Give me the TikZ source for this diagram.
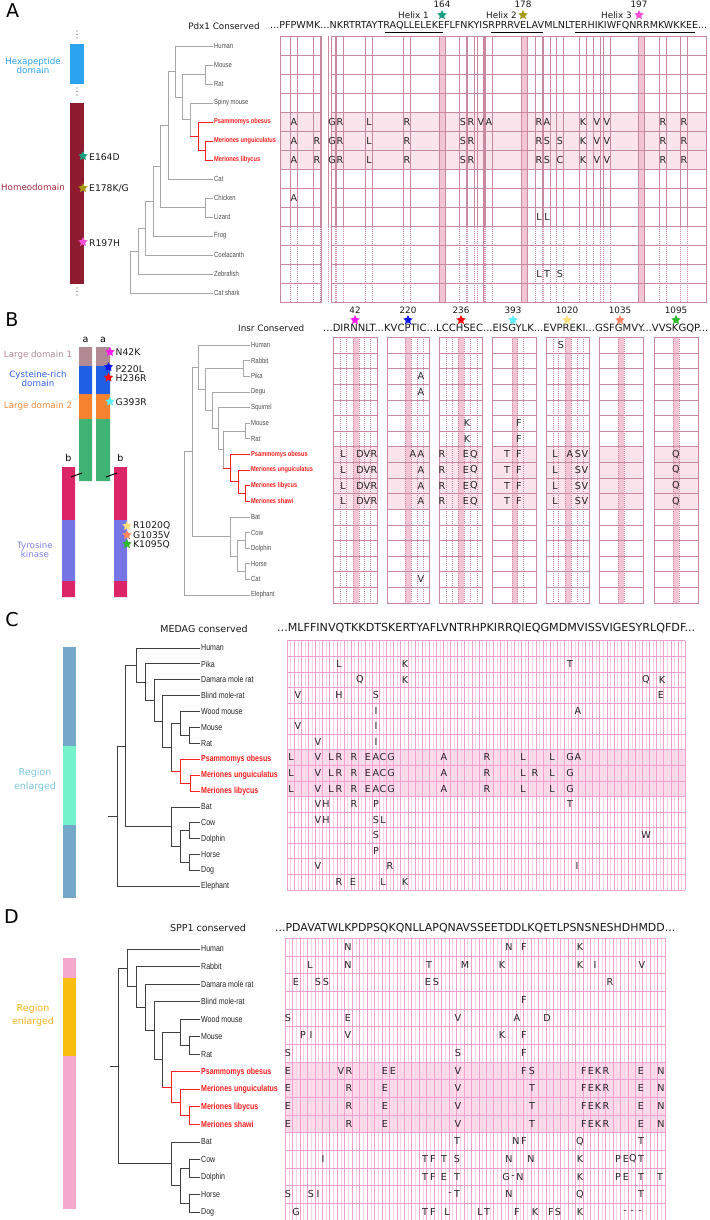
\documentclass[tikz,border=0pt]{standalone}
\usepackage{fontspec}
\usepackage{graphicx}
\setmainfont{DejaVu Sans}
\newfontfamily\narrow[FakeStretch=0.8]{Liberation Sans}
\usetikzlibrary{shapes.geometric}
\definecolor{gABc}{HTML}{C8899F}
\definecolor{sABc}{HTML}{FBE4EC}
\definecolor{cABc}{HTML}{F2C4D4}
\definecolor{gCDc}{HTML}{F4A0CE}
\definecolor{gCDlc}{HTML}{F9D2E7}
\definecolor{sCDc}{HTML}{FCDCEB}
\definecolor{treegray}{HTML}{A6A6A6}
\definecolor{gred}{HTML}{FF1F1F}
\definecolor{hexblue}{HTML}{2BA3EE}
\definecolor{homeo}{HTML}{8E1B2F}
\definecolor{homeotxt}{HTML}{A12B3F}
\definecolor{ld1c}{HTML}{B28A94}
\definecolor{cysc}{HTML}{1F5FE6}
\definecolor{ld2c}{HTML}{F5822F}
\definecolor{grnc}{HTML}{3FB373}
\definecolor{crimc}{HTML}{DC2566}
\definecolor{tkc}{HTML}{7575E6}
\definecolor{ld1t}{HTML}{B48C96}
\definecolor{cyst}{HTML}{2F64E8}
\definecolor{ld2t}{HTML}{F58A3A}
\definecolor{tkt}{HTML}{8585E8}
\definecolor{steelc}{HTML}{74A8C9}
\definecolor{aquac}{HTML}{74F2CB}
\definecolor{regCc}{HTML}{7FC6DD}
\definecolor{pinkbar}{HTML}{F5A8CD}
\definecolor{goldbar}{HTML}{F7BE0F}
\definecolor{regDc}{HTML}{F5B325}
\definecolor{s164}{HTML}{1A9E82}
\definecolor{s178}{HTML}{A59B12}
\definecolor{s197}{HTML}{F54FD8}
\definecolor{s42}{HTML}{FF1CF0}
\definecolor{s220}{HTML}{0A14F5}
\definecolor{s236}{HTML}{FF0A0A}
\definecolor{s393}{HTML}{5BEFFF}
\definecolor{s1020}{HTML}{FFE07A}
\definecolor{s1035}{HTML}{FF8563}
\definecolor{s1095}{HTML}{2EB82E}
\newcommand\resrow[3]{\foreach \x/\l in {#3} {\node[res] (#1-\x) at (\x,#2) {\l};}}
\begin{document}
\begin{tikzpicture}[x=1pt,y=-1pt,
  tlA/.style={anchor=west, inner sep=1pt, font=\narrow\fontsize{7.4}{8}\selectfont, text=black!70},
  tlAr/.style={tlA, font=\narrow\bfseries\fontsize{7.1}{8}\selectfont, text=gred},
  tlC/.style={anchor=west, inner sep=1pt, font=\narrow\fontsize{8.8}{9}\selectfont, text=black!85},
  tlCr/.style={tlC, font=\narrow\bfseries\fontsize{8.8}{9}\selectfont, text=gred},
  tgA/.style={draw=treegray, line width=0.7pt},
  tgAr/.style={draw=gred, line width=0.9pt},
  tgC/.style={draw=black!75, line width=1pt},
  tgCr/.style={draw=gred, line width=1pt},
  res/.style={inner sep=0pt, font=\fontsize{9.6}{10}\selectfont, text=black!85},
  seqn/.style={anchor=west, inner sep=0pt, font=\fontsize{9}{10}\selectfont, text=black!90},
  hdr/.style={inner sep=0pt, font=\fontsize{8.8}{10}\selectfont, text=black!90},
  mut/.style={anchor=west, inner sep=0pt, font=\fontsize{9.2}{10}\selectfont, text=black!90},
  dom/.style={inner sep=0pt, align=center, font=\fontsize{8.7}{9}\selectfont},
  plab/.style={inner sep=0pt, font=\fontsize{19}{20}\selectfont},
  mstar/.style={star, star points=5, star point ratio=2.1, minimum size=10pt, inner sep=0pt},
  gAB/.style={draw=gABc, line width=0.4pt},
  gABd/.style={draw=gABc, line width=0.35pt, dash pattern=on 1.2pt off 0.8pt},
  gCD/.style={draw=gCDc, line width=0.45pt},
  gCDl/.style={draw=gCDlc, line width=0.3pt}
]
\useasboundingbox (0,0) rectangle (709,1220);
\fill[white] (0,0) rectangle (709,1220);

%%%%%%%%%%%%%%%% PANEL A %%%%%%%%%%%%%%%%
\node[plab] (LA) at (12.5,10.5) {A};
\foreach \y in {31,34.5,38,88,91.5,95,288,291.5,295} \fill[black!70] (77,\y) circle (0.55);
\fill[hexblue] (70,44) rectangle (84,84);
\fill[homeo] (70,103) rectangle (84,284);
\node[dom, text=hexblue] (Lhex) at (33,66) {Hexapeptide\\domain};
\node[dom, text=homeotxt] (Lhom) at (33,187) {Homeodomain};
\node[mstar, fill=s164] (m164) at (83,156) {};
\node[mut] (t164) at (89,157) {E164D};
\node[mstar, fill=s178] (m178) at (83,188) {};
\node[mut] (t178) at (89,189) {E178K/G};
\node[mstar, fill=s197] (m197) at (83,242) {};
\node[mut] (t197) at (89,243) {R197H};

% tree A
\node[tlA] (Ahu) at (213,46) {Human};
\node[tlA] (Amo) at (213,65) {Mouse};
\node[tlA] (Ara) at (213,84) {Rat};
\node[tlA] (Asp) at (213,103) {Spiny mouse};
\node[tlAr] (Aps) at (213,122) {Psammomys obesus};
\node[tlAr] (Amu) at (213,141) {Meriones unguiculatus};
\node[tlAr] (Aml) at (213,160) {Meriones libycus};
\node[tlA] (Aca) at (213,179) {Cat};
\node[tlA] (Ach) at (213,198) {Chicken};
\node[tlA] (Ali) at (213,217) {Lizard};
\node[tlA] (Afr) at (213,236) {Frog};
\node[tlA] (Aco) at (213,255) {Coelacanth};
\node[tlA] (Aze) at (213,274) {Zebrafish};
\node[tlA] (Acs) at (213,293) {Cat shark};
\coordinate (aMR) at (205,74.5);
\coordinate (aML) at (205,150.5);
\coordinate (aG) at (198,136.25);
\coordinate (aSG) at (190,119.6);
\coordinate (aRod) at (182,97);
\coordinate (aHR) at (175,71.5);
\coordinate (aMam) at (168,125.25);
\coordinate (aCL) at (205,207.5);
\coordinate (aAmn) at (160,166.4);
\coordinate (aTet) at (153,201.2);
\coordinate (aSar) at (145,228.1);
\coordinate (aOst) at (138,251);
\coordinate (aRoot) at (130,272);
\draw[tgA] (aMR) |- (Amo.west) (aMR) |- (Ara.west) (aSG) |- (Asp.west)
  (aRod) |- (aMR) (aRod) |- (aSG) (aHR) |- (Ahu.west) (aHR) |- (aRod)
  (aMam) |- (aHR) (aMam) |- (Aca.west) (aCL) |- (Ach.west) (aCL) |- (Ali.west)
  (aAmn) |- (aMam) (aAmn) |- (aCL) (aTet) |- (aAmn) (aTet) |- (Afr.west)
  (aSar) |- (aTet) (aSar) |- (Aco.west) (aOst) |- (aSar) (aOst) |- (Aze.west)
  (aRoot) |- (aOst) (aRoot) |- (Acs.west);
\draw[tgA] (aSG) -- (aSG |- aG);
\draw[tgAr] (aSG |- aG) -- (aG);
\draw[tgAr] (aML) |- (Amu.west) (aML) |- (Aml.west) (aG) |- (Aps.west) (aG) |- (aML);

% header A
\node[hdr] (Ahdr) at (224,26) {Pdx1 Conserved};
\node[seqn] (Aseq) at (270,26) {\resizebox{437pt}{!}{...PFPWMK...NKRTRTAYTRAQLLELEKEFLFNKYISRPRRVELAVMLNLTERHIKIWFQNRRMKWKKEE...}};
\draw[line width=1.3pt] (385,32.5) -- (443,32.5) (490.7,32.5) -- (542.7,32.5) (575,32.5) -- (695,32.5);
\node[hdr] (hx1) at (413.5,15.5) {Helix 1};
\node[hdr] (hx2) at (501.5,15.5) {Helix 2};
\node[hdr] (hx3) at (616.5,15.5) {Helix 3};
\node[mstar, fill=s164] (st164) at (442,15) {};
\node[mstar, fill=s178] (st178) at (523,15) {};
\node[mstar, fill=s197] (st197) at (639,15) {};
\node[hdr] (n164) at (442,4.5) {164};
\node[hdr] (n178) at (523,4.5) {178};
\node[hdr] (n197) at (639,4.5) {197};

% grid A
\fill[sABc] (280,112.5) rectangle (321,169.5) (331,112.5) rectangle (706,169.5);
\fill[cABc] (439,36.5) rectangle (445,302.5) (521.5,36.5) rectangle (527,302.5) (638,36.5) rectangle (644,302.5);
\draw[gAB] (280,36.5) rectangle (321,302.5) (331,36.5) rectangle (706,302.5);
\foreach \k in {1,...,13} {\draw[gAB] (280,{36.5+19*\k}) -- (321,{36.5+19*\k}) (331,{36.5+19*\k}) -- (706,{36.5+19*\k});}
\foreach \c in {294,317,332,340,369,407,463,471,481,489,539,547,560,583,597,607,663,684}
  {\draw[gABd] (\c-3.5,36.5) -- (\c-3.5,302.5) (\c+3.5,36.5) -- (\c+3.5,302.5);}
\draw[gAB] (439,36.5) -- (439,302.5) (445,36.5) -- (445,302.5) (521.5,36.5) -- (521.5,302.5) (527,36.5) -- (527,302.5) (638,36.5) -- (638,302.5) (644,36.5) -- (644,302.5) (483,36.5) -- (483,302.5);
\resrow{A4}{122}{294/A,332/G,340/R,369/L,407/R,463/S,471/R,481/V,489/A,539/R,547/A,583/K,597/V,607/V,663/R,684/R}
\resrow{A5}{141}{294/A,317/R,332/G,340/R,369/L,407/R,463/S,471/R,539/R,547/S,560/S,583/K,597/V,607/V,663/R,684/R}
\resrow{A6}{160}{294/A,317/R,332/G,340/R,369/L,407/R,463/S,471/R,539/R,547/S,560/C,583/K,597/V,607/V,663/R,684/R}
\resrow{A8}{198}{294/A}
\resrow{A9}{217}{539/L,547/L}
\resrow{A12}{274}{539/L,547/T,560/S}

%%%%%%%%%%%%%%%% PANEL B %%%%%%%%%%%%%%%%
\node[plab] (LB) at (12,320) {B};
\fill[ld1c] (79,347) rectangle (92,366) (96,347) rectangle (110,366);
\fill[cysc] (79,366) rectangle (92,394) (96,366) rectangle (110,394);
\fill[ld2c] (79,394) rectangle (92,419) (96,394) rectangle (110,419);
\fill[grnc] (79,419) rectangle (92,481) (96,419) rectangle (110,481);
\fill[crimc] (62,467) rectangle (75,520) (114,467) rectangle (127,520);
\fill[tkc] (62,520) rectangle (75,581) (114,520) rectangle (127,581);
\fill[crimc] (62,581) rectangle (75,597) (114,581) rectangle (127,597);
\draw[line width=1pt] (71,477) -- (82,473) (106,477) -- (117,473);
\node[font=\fontsize{9.5}{10}\selectfont, inner sep=0pt] (aL) at (85.5,340) {a};
\node[font=\fontsize{9.5}{10}\selectfont, inner sep=0pt] (aR) at (103,340) {a};
\node[font=\fontsize{9.5}{10}\selectfont, inner sep=0pt] (bL) at (68.5,458) {b};
\node[font=\fontsize{9.5}{10}\selectfont, inner sep=0pt] (bR) at (120.5,458) {b};
\node[dom, text=ld1t] (Lld1) at (38,355) {Large domain 1};
\node[dom, text=cyst] (Lcys) at (38,378.5) {Cysteine-rich\\domain};
\node[dom, text=ld2t] (Lld2) at (38,406) {Large domain 2};
\node[dom, text=tkt] (Ltk) at (35,550) {Tyrosine\\kinase};
\node[mstar, fill=s42] (m42) at (110,352) {};
\node[mut] (t42) at (115.5,352.5) {N42K};
\node[mstar, fill=s220] (m220) at (108.5,367) {};
\node[mut] (t220) at (115.5,369) {P220L};
\node[mstar, fill=s236] (m236) at (108.5,377.5) {};
\node[mut] (t236) at (115.5,378.5) {H236R};
\node[mstar, fill=s393] (m393) at (110,401.5) {};
\node[mut] (t393) at (115.5,402) {G393R};
\node[mstar, fill=s1020] (m1020) at (127,526) {};
\node[mut] (t1020) at (133,526) {R1020Q};
\node[mstar, fill=s1035] (m1035) at (127,535) {};
\node[mut] (t1035) at (133,535) {G1035V};
\node[mstar, fill=s1095] (m1095) at (127,544) {};
\node[mut] (t1095) at (133,544.5) {K1095Q};

% tree B
\node[tlA] (Bhu) at (250,345) {Human};
\node[tlA] (Bra) at (250,360.6) {Rabbit};
\node[tlA] (Bpi) at (250,376.25) {Pika};
\node[tlA] (Bde) at (250,391.9) {Degu};
\node[tlA] (Bsq) at (250,407.5) {Squirrel};
\node[tlA] (Bmo) at (250,423.1) {Mouse};
\node[tlA] (Brt) at (250,438.75) {Rat};
\node[tlAr] (Bps) at (250,454.4) {Psammomys obesus};
\node[tlAr] (Bmu) at (250,470) {Meriones unguiculatus};
\node[tlAr] (Bml) at (250,485.6) {Meriones libycus};
\node[tlAr] (Bms) at (250,501.25) {Meriones shawi};
\node[tlA] (Bba) at (250,516.9) {Bat};
\node[tlA] (Bco) at (250,532.5) {Cow};
\node[tlA] (Bdo) at (250,548.1) {Dolphin};
\node[tlA] (Bho) at (250,563.75) {Horse};
\node[tlA] (Bca) at (250,579.4) {Cat};
\node[tlA] (Bel) at (250,595) {Elephant};
\coordinate (bRP) at (243,368.4);
\coordinate (bMR) at (245,430.9);
\coordinate (bLS) at (245,493.4);
\coordinate (bU) at (238,481.7);
\coordinate (bG) at (230,468.05);
\coordinate (bMG) at (223,449.5);
\coordinate (bSq) at (218,428.5);
\coordinate (bDe) at (212,410.2);
\coordinate (bGl) at (205,389.3);
\coordinate (bEu) at (198,367.15);
\coordinate (bCD) at (245,540.3);
\coordinate (bHC) at (245,571.6);
\coordinate (bCH) at (237,555.95);
\coordinate (bLa) at (230,536.4);
\coordinate (bBo) at (192,451.8);
\coordinate (bRoot) at (184,523.4);
\draw[tgA] (bRP) |- (Bra.west) (bRP) |- (Bpi.west) (bMR) |- (Bmo.west) (bMR) |- (Brt.west)
  (bMG) |- (bMR) (bSq) |- (Bsq.west) (bSq) |- (bMG) (bDe) |- (Bde.west) (bDe) |- (bSq)
  (bGl) |- (bRP) (bGl) |- (bDe) (bEu) |- (Bhu.west) (bEu) |- (bGl)
  (bCD) |- (Bco.west) (bCD) |- (Bdo.west) (bHC) |- (Bho.west) (bHC) |- (Bca.west)
  (bCH) |- (bCD) (bCH) |- (bHC) (bLa) |- (Bba.west) (bLa) |- (bCH)
  (bBo) |- (bEu) (bBo) |- (bLa) (bRoot) |- (bBo) (bRoot) |- (Bel.west);
\draw[tgA] (bMG) -- (bMG |- bG);
\draw[tgAr] (bMG |- bG) -- (bG);
\draw[tgAr] (bLS) |- (Bml.west) (bLS) |- (Bms.west) (bU) |- (Bmu.west) (bU) |- (bLS) (bG) |- (Bps.west) (bG) |- (bU);

% header B
\node[hdr, anchor=west] (Bhdr) at (238,328) {Insr Conserved};
\node[seqn] (Bseq) at (323,328) {\resizebox{385pt}{!}{...DIRNNLT...KVCPTIC...LCCHSEC...EISGYLK...EVPREKI...GSFGMVY...VVSKGQP...}};
\foreach \c/\n/\s in {355/42/s42, 408/220/s220, 461/236/s236, 513/393/s393, 567/1020/s1020, 620/1035/s1035, 676/1095/s1095}
  {\node[hdr] (bn\n) at (\c,310.5) {\n}; \node[mstar, fill=\s] (bs\n) at (\c,320) {};}

% grid B
\foreach \a/\b in {333/377,387/429,439/482,492/536,546/589,599/643,654/698}
  {\fill[sABc] (\a,446.6) rectangle (\b,509.1);}
\foreach \c in {356,408,461,514.5,568,621,676} {\fill[cABc] (\c-3,337.2) rectangle (\c+3,602.8);}
\foreach \a/\b in {333/377,387/429,439/482,492/536,546/589,599/643,654/698}
  {\draw[gAB] (\a,337.2) rectangle (\b,602.8);
   \foreach \k in {1,...,16} {\draw[gAB] (\a,{337.2+15.625*\k}) -- (\b,{337.2+15.625*\k});}}
\foreach \c in {340,346,353,359,364,370,405,411,417,423,446,452,458,464,470,477,512,517,523,553,558,565,571,577,583,618,624,673,679}
  {\draw[gABd] (\c,337.2) -- (\c,602.8);}
\resrow{B0}{345}{561/S}
\resrow{B2}{376.25}{421/A}
\resrow{B3}{391.9}{421/A}
\resrow{B5}{423.1}{467/K,519/F}
\resrow{B6}{438.75}{467/K,519/F}
\resrow{B7}{454.4}{343/L,360/D,367/V,374/R,413/A,421/A,442/R,466/E,474/Q,507/T,519/F,555/L,570/A,578/S,585/V,676/Q}
\resrow{B8}{470}{343/L,360/D,367/V,374/R,421/A,442/R,466/E,474/Q,507/T,519/F,555/L,578/S,585/V,676/Q}
\resrow{B9}{485.6}{343/L,360/D,367/V,374/R,421/A,442/R,466/E,474/Q,507/T,519/F,555/L,578/S,585/V,676/Q}
\resrow{B10}{501.25}{343/L,360/D,367/V,374/R,421/A,442/R,466/E,474/Q,507/T,519/F,555/L,578/S,585/V,676/Q}
\resrow{B15}{579.4}{421/V}

%%%%%%%%%%%%%%%% PANEL C %%%%%%%%%%%%%%%%
\node[plab] (LC) at (12,620) {C};
\fill[steelc] (63,647) rectangle (76,746);
\fill[aquac] (63,746) rectangle (76,825);
\fill[steelc] (63,825) rectangle (76,898);
\node[dom, text=regCc, font=\fontsize{9.5}{14}\selectfont] (LrC) at (35,780) {Region\\enlarged};

% tree C
\node[tlC] (Chu) at (200,648) {Human};
\node[tlC] (Cpi) at (200,663.9) {Pika};
\node[tlC] (Cda) at (200,679.8) {Damara mole rat};
\node[tlC] (Cbl) at (200,695.7) {Blind mole-rat};
\node[tlC] (Cwm) at (200,711.6) {Wood mouse};
\node[tlC] (Cmo) at (200,727.5) {Mouse};
\node[tlC] (Crt) at (200,743.4) {Rat};
\node[tlCr] (Cps) at (200,759.3) {Psammomys obesus};
\node[tlCr] (Cmu) at (200,775.2) {Meriones unguiculatus};
\node[tlCr] (Cml) at (200,791.1) {Meriones libycus};
\node[tlC] (Cba) at (200,807) {Bat};
\node[tlC] (Cco) at (200,822.9) {Cow};
\node[tlC] (Cdo) at (200,838.8) {Dolphin};
\node[tlC] (Cho) at (200,854.7) {Horse};
\node[tlC] (Cdg) at (200,870.6) {Dog};
\node[tlC] (Cel) at (200,886.5) {Elephant};
\coordinate (cMR) at (189,735.45);
\coordinate (cWM) at (180,723.5);
\coordinate (cUL) at (190,783.15);
\coordinate (cG) at (180,771.2);
\coordinate (cMu) at (171,747.35);
\coordinate (cBl) at (162,721.5);
\coordinate (cDa) at (154,700.65);
\coordinate (cGl) at (145,682.3);
\coordinate (cEu) at (136,665.15);
\coordinate (cCD) at (189,830.85);
\coordinate (cHD) at (189,862.65);
\coordinate (cCH) at (180,846.75);
\coordinate (cLa) at (171,826.9);
\coordinate (cBo) at (125,746);
\coordinate (cRoot) at (117,816.25);
\coordinate (cStub) at (108,816.25);
\draw[tgC] (cMR) |- (Cmo.west) (cMR) |- (Crt.west) (cWM) |- (Cwm.west) (cWM) |- (cMR)
  (cMu) |- (cWM) (cBl) |- (Cbl.west) (cBl) |- (cMu) (cDa) |- (Cda.west) (cDa) |- (cBl)
  (cGl) |- (Cpi.west) (cGl) |- (cDa) (cEu) |- (Chu.west) (cEu) |- (cGl)
  (cCD) |- (Cco.west) (cCD) |- (Cdo.west) (cHD) |- (Cho.west) (cHD) |- (Cdg.west)
  (cCH) |- (cCD) (cCH) |- (cHD) (cLa) |- (Cba.west) (cLa) |- (cCH)
  (cBo) |- (cEu) (cBo) |- (cLa) (cRoot) |- (cBo) (cRoot) |- (Cel.west) (cStub) -- (cRoot);
\draw[tgC] (cMu) -- (cMu |- cG);
\draw[tgCr] (cMu |- cG) -- (cG);
\draw[tgCr] (cUL) |- (Cmu.west) (cUL) |- (Cml.west) (cG) |- (Cps.west) (cG) |- (cUL);

% header C
\node[hdr, font=\fontsize{9.5}{10}\selectfont] (Chdr) at (204,629) {MEDAG conserved};
\node[seqn] (Cseq) at (277,628) {\resizebox{418pt}{!}{...MLFFINVQTKKDTSKERTYAFLVNTRHPKIRRQIEQGMDMVISSVIGESYRLQFDF...}};

% grid C
\fill[sCDc] (287,749.6) rectangle (685,796.3);
\foreach \k in {0,...,55} {\draw[gCDl] ({287+7.107*\k+3.55},640.6) -- ({287+7.107*\k+3.55},889.7);}
\foreach \k in {0,...,56} {\draw[gCD] ({287+7.107*\k},640.6) -- ({287+7.107*\k},889.7);}
\foreach \k in {0,...,16} {\draw[gCD] (287,{640.6+15.57*\k}) -- (685,{640.6+15.57*\k});}
\resrow{C1}{664}{339/L,405/K,570/T}
\resrow{C2}{679.5}{360/Q,405/K,646/Q,662/K}
\resrow{C3}{695.1}{298/V,339/H,376/S,661/E}
\resrow{C4}{710.7}{376/I,578/A}
\resrow{C5}{726.2}{298/V,376/I}
\resrow{C6}{741.8}{318/V,376/I}
\resrow{C7}{757.4}{291/L,318/V,331/L,339/R,354/R,368/E,376/A,383/C,391/G,444/A,487/R,523/L,552/L,570/G,578/A}
\resrow{C8}{772.9}{291/L,318/V,331/L,339/R,354/R,368/E,376/A,383/C,391/G,444/A,487/R,523/L,535/R,552/L,570/G}
\resrow{C9}{788.5}{291/L,318/V,331/L,339/R,354/R,368/E,376/A,383/C,391/G,444/A,487/R,523/L,552/L,570/G}
\resrow{C10}{804.1}{318/V,326/H,354/R,376/P,570/T}
\resrow{C11}{819.7}{318/V,326/H,376/S,383/L}
\resrow{C12}{835.2}{376/S,646/W}
\resrow{C13}{850.8}{376/P}
\resrow{C14}{866.4}{318/V,390/R,577/I}
\resrow{C15}{882}{339/R,353/E,383/L,405/K}

%%%%%%%%%%%%%%%% PANEL D %%%%%%%%%%%%%%%%
\node[plab] (LD) at (11.5,917) {D};
\fill[pinkbar] (63,958) rectangle (76,978);
\fill[goldbar] (63,978) rectangle (76,1056);
\fill[pinkbar] (63,1056) rectangle (76,1209);
\node[dom, text=regDc, font=\fontsize{9.5}{13}\selectfont] (LrD) at (33,1015.5) {Region\\enlarged};

% tree D
\node[tlC] (Dhu) at (200,949) {Human};
\node[tlC] (Dra) at (200,966.5) {Rabbit};
\node[tlC] (Dda) at (200,984.1) {Damara mole rat};
\node[tlC] (Dbl) at (200,1001.6) {Blind mole-rat};
\node[tlC] (Dwm) at (200,1019.2) {Wood mouse};
\node[tlC] (Dmo) at (200,1036.7) {Mouse};
\node[tlC] (Drt) at (200,1054.3) {Rat};
\node[tlCr] (Dps) at (200,1071.8) {Psammomys obesus};
\node[tlCr] (Dmu) at (200,1089.4) {Meriones unguiculatus};
\node[tlCr] (Dml) at (200,1106.9) {Meriones libycus};
\node[tlCr] (Dms) at (200,1124.5) {Meriones shawi};
\node[tlC] (Dba) at (200,1142) {Bat};
\node[tlC] (Dco) at (200,1159.6) {Cow};
\node[tlC] (Ddo) at (200,1177.1) {Dolphin};
\node[tlC] (Dho) at (200,1194.7) {Horse};
\node[tlC] (Ddg) at (200,1212.2) {Dog};
\coordinate (dMR) at (189,1045.5);
\coordinate (dWM) at (180,1032.35);
\coordinate (dLS) at (189,1115.7);
\coordinate (dU) at (180,1102.55);
\coordinate (dG) at (171,1087.2);
\coordinate (dMu) at (162,1059.8);
\coordinate (dBl) at (154,1030.7);
\coordinate (dDa) at (145,1007.4);
\coordinate (dGl) at (136,986.95);
\coordinate (dEu) at (127,968);
\coordinate (dCD) at (189,1168.35);
\coordinate (dHD) at (189,1203.45);
\coordinate (dCH) at (180,1185.9);
\coordinate (dLa) at (171,1163.95);
\coordinate (dRoot) at (118,1066);
\coordinate (dStub) at (110,1066);
\draw[tgC] (dMR) |- (Dmo.west) (dMR) |- (Drt.west) (dWM) |- (Dwm.west) (dWM) |- (dMR)
  (dMu) |- (dWM) (dBl) |- (Dbl.west) (dBl) |- (dMu) (dDa) |- (Dda.west) (dDa) |- (dBl)
  (dGl) |- (Dra.west) (dGl) |- (dDa) (dEu) |- (Dhu.west) (dEu) |- (dGl)
  (dCD) |- (Dco.west) (dCD) |- (Ddo.west) (dHD) |- (Dho.west) (dHD) |- (Ddg.west)
  (dCH) |- (dCD) (dCH) |- (dHD) (dLa) |- (Dba.west) (dLa) |- (dCH)
  (dRoot) |- (dEu) (dRoot) |- (dLa) (dStub) -- (dRoot);
\draw[tgC] (dMu) -- (dMu |- dG);
\draw[tgCr] (dMu |- dG) -- (dG);
\draw[tgCr] (dLS) |- (Dml.west) (dLS) |- (Dms.west) (dU) |- (Dmu.west) (dU) |- (dLS) (dG) |- (Dps.west) (dG) |- (dU);

% header D
\node[hdr, font=\fontsize{9.5}{10}\selectfont] (Dhdr) at (208,928) {SPP1 conserved};
\node[seqn] (Dseq) at (275,928) {\resizebox{400pt}{!}{...PDAVATWLKPDPSQKQNLLAPQNAVSSEETDDLKQETLPSNSNESHDHMDD...}};

% grid D
\fill[sCDc] (285,1061.9) rectangle (665,1132.5);
\foreach \k in {0,...,50} {\draw[gCDl] ({285+7.451*\k+3.72},938.2) -- ({285+7.451*\k+3.72},1221);}
\foreach \k in {0,...,51} {\draw[gCD] ({285+7.451*\k},938.2) -- ({285+7.451*\k},1221);}
\foreach \k in {0,...,16} {\draw[gCD] (285,{938.2+17.67*\k}) -- (665,{938.2+17.67*\k});}
\resrow{D0}{947}{348/N,509/N,524/F,580/K}
\resrow{D1}{964.7}{310/L,348/N,429/T,465/M,502/K,580/K,595/I,642/V}
\resrow{D2}{982.3}{296/E,318/S,326/S,428/E,436/S,610/R}
\resrow{D3}{1000}{524/F}
\resrow{D4}{1017.7}{288/S,348/E,458/V,517/A,547/D}
\resrow{D5}{1035.4}{303/P,311/I,348/V,502/K,524/F}
\resrow{D6}{1053}{288/S,458/S,524/F}
\resrow{D7}{1070.7}{288/E,341/V,349/R,385/E,393/E,458/V,524/F,532/S,584/F,591/E,598/K,606/R,641/E,661/N}
\resrow{D8}{1088.4}{288/E,349/R,385/E,458/V,532/T,584/F,591/E,598/K,606/R,641/E,661/N}
\resrow{D9}{1106}{288/E,349/R,385/E,458/V,532/T,584/F,591/E,598/K,606/R,641/E,661/N}
\resrow{D10}{1123.7}{288/E,349/R,385/E,458/V,532/T,584/F,591/E,598/K,606/R,641/E,661/N}
\resrow{D11}{1141.4}{457/T,516/N,524/F,580/Q,641/T}
\resrow{D12}{1159}{323/I,425/T,433/F,444/T,457/S,509/N,531/N,580/K,618/P,626/E,633/Q,641/T}
\resrow{D13}{1176.7}{425/T,433/F,444/E,457/T,506/G,513/-,520/N,580/K,618/P,626/E,641/T,660/T}
\resrow{D14}{1194.4}{288/S,311/S,318/I,450/-,457/T,509/N,580/Q,641/T}
\resrow{D15}{1212}{296/G,425/T,433/F,447/L,480/L,487/T,517/F,535/K,551/F,558/S,580/K,625/-,632/-,640/-}
\end{tikzpicture}
\end{document}
